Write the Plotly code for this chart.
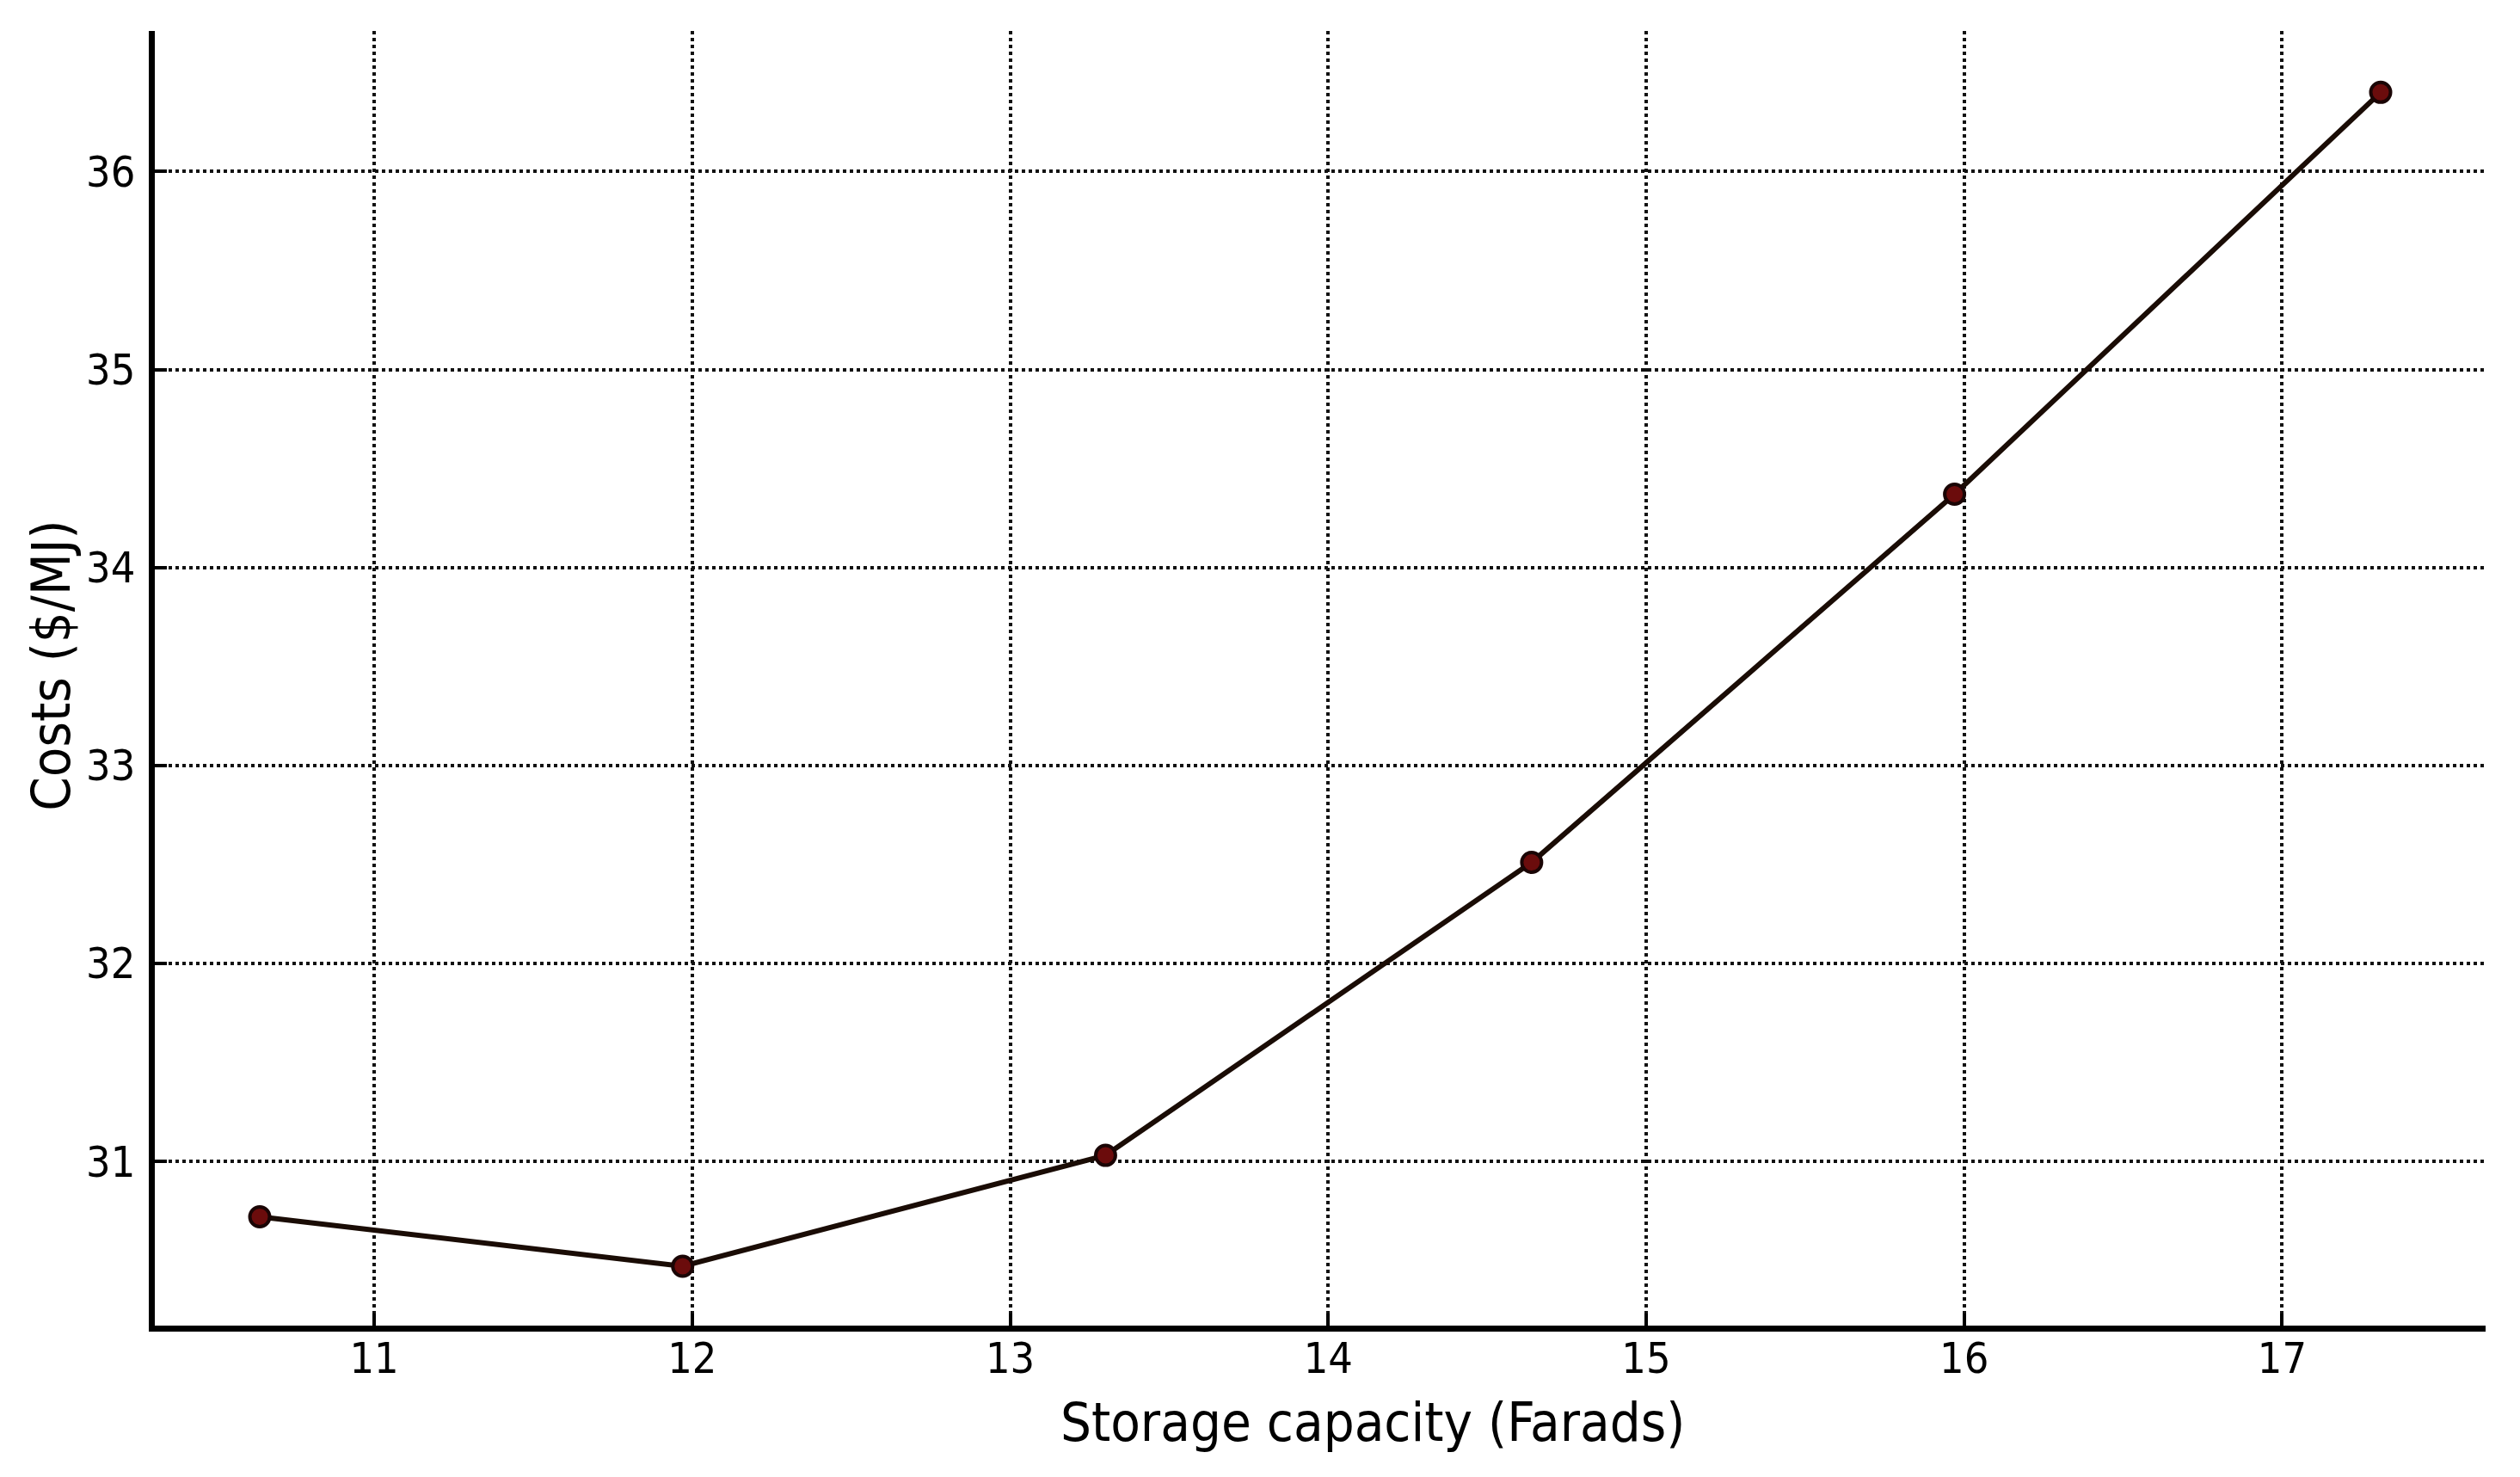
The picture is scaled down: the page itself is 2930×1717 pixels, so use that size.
import plotly.graph_objects as go

capacity = [10.64, 11.97, 13.30, 14.64, 15.97, 17.31]
costs = [30.72, 30.47, 31.03, 32.51, 34.37, 36.40]
x_ticks = [11, 12, 13, 14, 15, 16, 17]
y_ticks = [31, 32, 33, 34, 35, 36]
x_title = "Storage capacity (Farads)"
y_title = "Costs ($/MJ)"

fig = go.Figure()
fig.add_trace(go.Scatter(
    x=capacity, y=costs, mode="lines+markers",
    line=dict(color="#1a0c05", width=6),
    marker=dict(size=23, color="#6b0c0c", line=dict(color="#1a0505", width=4)),
    showlegend=False,
))

font_family = "DejaVu Sans Condensed, DejaVu Sans, sans-serif"
axis_common = dict(
    showline=True, linecolor="black", linewidth=6.5, mirror=False,
    ticks="inside", ticklen=14, tickwidth=4, tickcolor="black",
    showgrid=True, gridcolor="#111111", gridwidth=4, griddash="dot",
    zeroline=False,
    tickfont=dict(family=font_family, size=50, color="black"),
)

fig.update_layout(
    width=2930, height=1717,
    margin=dict(l=172, r=48, t=28, b=184),
    paper_bgcolor="white", plot_bgcolor="white",
    xaxis=dict(range=[10.31, 17.64], tickvals=x_ticks, ticklabelstandoff=-12,
               **axis_common),
    yaxis=dict(range=[30.17, 36.71], tickvals=y_ticks, ticklabelstandoff=6,
               **axis_common),
)

fig.add_annotation(text=x_title, xref="paper", yref="paper", x=0.5225, y=-0.075,
                   xanchor="center", yanchor="middle", showarrow=False,
                   font=dict(family=font_family, size=63, color="black"))
fig.add_annotation(text=y_title, xref="paper", yref="paper", x=-0.0445, y=0.51,
                   xanchor="center", yanchor="middle", showarrow=False, textangle=-90,
                   font=dict(family=font_family, size=63, color="black"))

fig.write_html("out.html")
